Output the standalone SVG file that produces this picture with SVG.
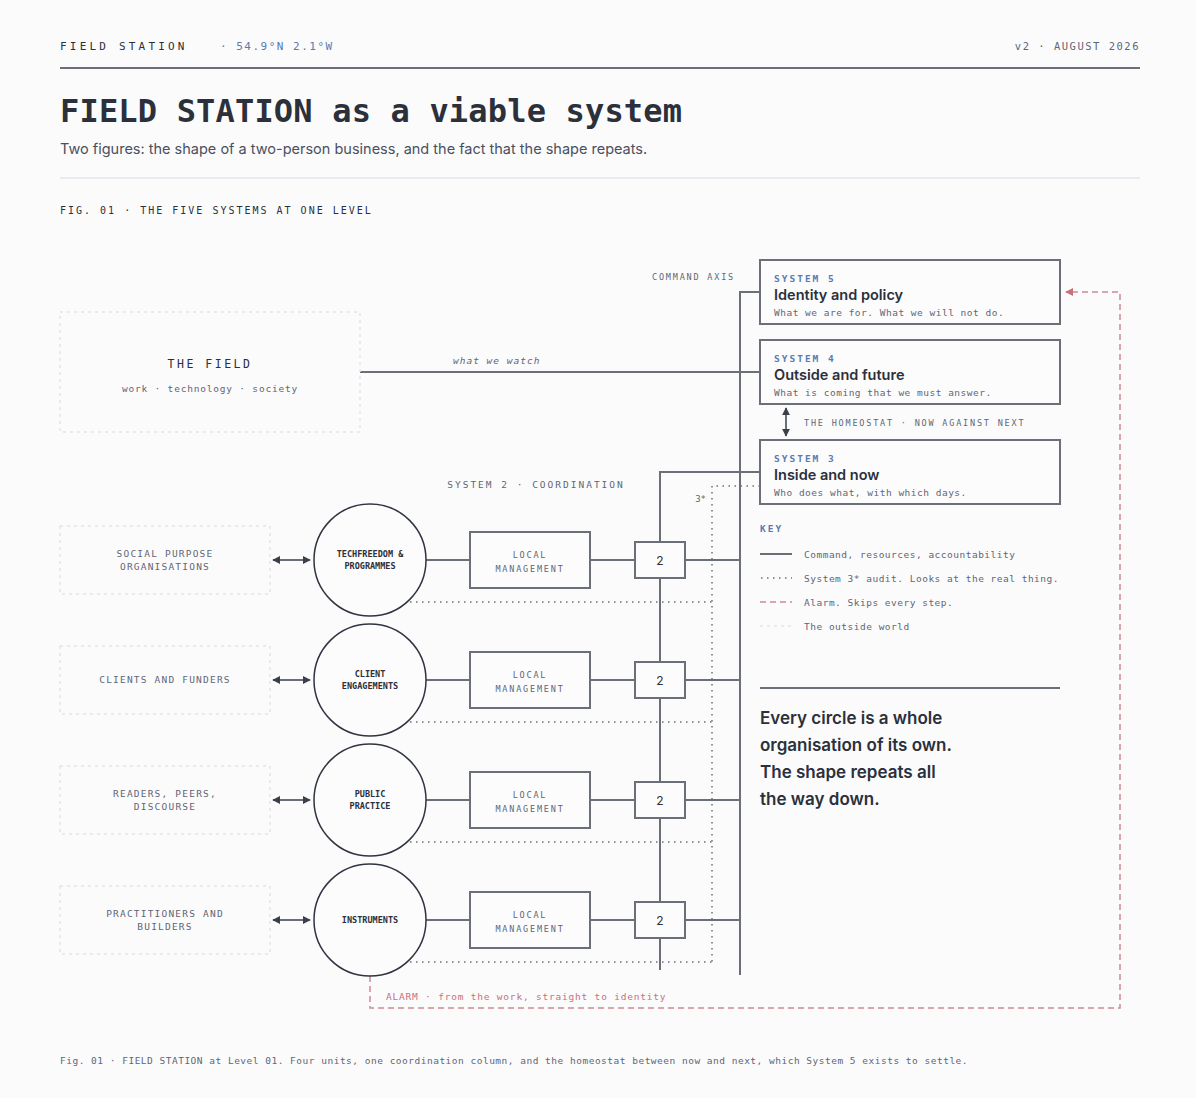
<svg xmlns="http://www.w3.org/2000/svg" width="1196" height="1098" viewBox="0 0 1196 1098">
<style>
.m{font-family:"DejaVu Sans Mono","Liberation Mono",monospace}
.s{font-family:Inter,"Noto Sans",sans-serif}
.ink{fill:#2b303b}.g{fill:#5f6675}.b{fill:#5a7ab0}.r{fill:#c9707a}
.ln{stroke:#6b7078;stroke-width:2;fill:none}
.dl{stroke:#6b7078;stroke-width:1.5;stroke-dasharray:1.5 4.5;fill:none}
.al{stroke:#d08a92;stroke-width:1.5;stroke-dasharray:6 4;fill:none}
.ow{stroke:#e2e5ec;stroke-width:1.5;stroke-dasharray:3 4;fill:none}
.box{fill:#fcfcfd;stroke:#6b7078;stroke-width:2}
.circ{fill:#fcfcfd;stroke:#2f3440;stroke-width:1.5}
</style>
<defs>
<marker id="ah" viewBox="0 0 10 10" refX="9" refY="5" markerWidth="8" markerHeight="8" markerUnits="userSpaceOnUse" orient="auto-start-reverse"><path d="M0,0 L10,5 L0,10 z" fill="#3a3f4a"/></marker>
<marker id="ar" viewBox="0 0 10 10" refX="9" refY="5" markerWidth="8" markerHeight="8" markerUnits="userSpaceOnUse" orient="auto"><path d="M0,0 L10,5 L0,10 z" fill="#c9707a"/></marker>
</defs>
<rect width="1196" height="1098" fill="#fbfbfc"/>
<text class="m ink" x="60" y="50" font-size="11" letter-spacing="3.2">FIELD STATION</text>
<text class="m b" x="220" y="50" font-size="11" letter-spacing="1.5" fill="#7b94c0">· 54.9°N 2.1°W</text>
<text class="m g" x="1140" y="50" font-size="10.5" letter-spacing="1.5" text-anchor="end">v2 · AUGUST 2026</text>
<line x1="60" y1="68" x2="1140" y2="68" stroke="#6b7078" stroke-width="2"/>
<text class="m ink" x="60" y="122" font-size="32" font-weight="bold" textLength="622">FIELD STATION as a viable system</text>
<text class="s" x="60" y="154" font-size="14.5" fill="#4a5060">Two figures: the shape of a two-person business, and the fact that the shape repeats.</text>
<line x1="60" y1="178" x2="1140" y2="178" stroke="#e3e6ec" stroke-width="1.5"/>
<text class="m ink" x="60" y="214" font-size="10" letter-spacing="2">FIG. 01 · THE FIVE SYSTEMS AT ONE LEVEL</text>

<g id="connectors">
<line class="ln" x1="360" y1="372" x2="760" y2="372"/>
<polyline class="ln" points="760,292 740,292 740,975"/>
<polyline class="ln" points="760,472 660,472 660,970"/>
<line x1="786" y1="408" x2="786" y2="436" stroke="#3a3f4a" stroke-width="1.5" marker-start="url(#ah)" marker-end="url(#ah)"/>
<polyline class="dl" points="760,486 712,486 712,962"/>
<g id="unit-lines">
<line x1="273" y1="560" x2="310" y2="560" stroke="#3a3f4a" stroke-width="1.5" marker-start="url(#ah)" marker-end="url(#ah)"/>
<line x1="273" y1="680" x2="310" y2="680" stroke="#3a3f4a" stroke-width="1.5" marker-start="url(#ah)" marker-end="url(#ah)"/>
<line x1="273" y1="800" x2="310" y2="800" stroke="#3a3f4a" stroke-width="1.5" marker-start="url(#ah)" marker-end="url(#ah)"/>
<line x1="273" y1="920" x2="310" y2="920" stroke="#3a3f4a" stroke-width="1.5" marker-start="url(#ah)" marker-end="url(#ah)"/>
<path class="ln" d="M426,560H470M590,560H635M685,560H740M426,680H470M590,680H635M685,680H740M426,800H470M590,800H635M685,800H740M426,920H470M590,920H635M685,920H740"/>
<path class="dl" d="M410,602H712M410,722H712M410,842H712M410,962H712"/>
</g>
<polyline class="al" points="370,976 370,1008 1120,1008 1120,292 1066,292" marker-end="url(#ar)"/>
</g>

<text class="m g" x="453" y="364" font-size="9.5" font-style="italic" letter-spacing="1">what we watch</text>
<text class="m g" x="735" y="280" font-size="8.5" letter-spacing="1.8" text-anchor="end">COMMAND AXIS</text>
<text class="m g" x="804" y="426" font-size="8.5" letter-spacing="1.8">THE HOMEOSTAT · NOW AGAINST NEXT</text>
<text class="m g" x="536" y="488" font-size="9.5" letter-spacing="2" text-anchor="middle">SYSTEM 2 · COORDINATION</text>
<text class="m g" x="706" y="502" font-size="9" text-anchor="end">3*</text>
<text class="m r" x="386" y="1000" font-size="9.5" letter-spacing="0.8">ALARM · from the work, straight to identity</text>

<g id="field">
<rect class="ow" x="60" y="312" width="300" height="120"/>
<text class="m ink" x="210" y="368" font-size="11.5" letter-spacing="2.5" text-anchor="middle">THE FIELD</text>
<text class="m g" x="210" y="392" font-size="9.5" letter-spacing="0.8" text-anchor="middle">work · technology · society</text>
</g>

<g id="s5"><rect class="box" x="760" y="260" width="300" height="64"/>
<text class="m b" x="774" y="282" font-size="9.5" font-weight="bold" letter-spacing="2">SYSTEM 5</text>
<text class="s ink" x="774" y="300" font-size="14.5" font-weight="600">Identity and policy</text>
<text class="m g" x="774" y="316" font-size="9.5" letter-spacing="0.5">What we are for. What we will not do.</text></g>
<g id="s4"><rect class="box" x="760" y="340" width="300" height="64"/>
<text class="m b" x="774" y="362" font-size="9.5" font-weight="bold" letter-spacing="2">SYSTEM 4</text>
<text class="s ink" x="774" y="380" font-size="14.5" font-weight="600">Outside and future</text>
<text class="m g" x="774" y="396" font-size="9.5" letter-spacing="0.5">What is coming that we must answer.</text></g>
<g id="s3"><rect class="box" x="760" y="440" width="300" height="64"/>
<text class="m b" x="774" y="462" font-size="9.5" font-weight="bold" letter-spacing="2">SYSTEM 3</text>
<text class="s ink" x="774" y="480" font-size="14.5" font-weight="600">Inside and now</text>
<text class="m g" x="774" y="496" font-size="9.5" letter-spacing="0.5">Who does what, with which days.</text></g>

<g id="unit1">
<rect class="ow" x="60" y="526" width="210" height="68"/>
<text class="m g" x="165" y="557" font-size="9.5" letter-spacing="1.2" text-anchor="middle">SOCIAL PURPOSE</text>
<text class="m g" x="165" y="570" font-size="9.5" letter-spacing="1.2" text-anchor="middle">ORGANISATIONS</text>
<circle class="circ" cx="370" cy="560" r="56"/>
<text class="m ink" x="370" y="557" font-size="8.5" font-weight="bold" text-anchor="middle">TECHFREEDOM &amp;</text>
<text class="m ink" x="370" y="569" font-size="8.5" font-weight="bold" text-anchor="middle">PROGRAMMES</text>
<rect class="box" x="470" y="532" width="120" height="56"/>
<text class="m g" x="530" y="558" font-size="8.5" letter-spacing="1.8" text-anchor="middle">LOCAL</text>
<text class="m g" x="530" y="572" font-size="8.5" letter-spacing="1.8" text-anchor="middle">MANAGEMENT</text>
<rect class="box" x="635" y="542" width="50" height="36"/>
<text class="s ink" x="660" y="565" font-size="12" text-anchor="middle">2</text>
</g>
<g id="unit2">
<rect class="ow" x="60" y="646" width="210" height="68"/>
<text class="m g" x="165" y="683" font-size="9.5" letter-spacing="1.2" text-anchor="middle">CLIENTS AND FUNDERS</text>
<circle class="circ" cx="370" cy="680" r="56"/>
<text class="m ink" x="370" y="677" font-size="8.5" font-weight="bold" text-anchor="middle">CLIENT</text>
<text class="m ink" x="370" y="689" font-size="8.5" font-weight="bold" text-anchor="middle">ENGAGEMENTS</text>
<rect class="box" x="470" y="652" width="120" height="56"/>
<text class="m g" x="530" y="678" font-size="8.5" letter-spacing="1.8" text-anchor="middle">LOCAL</text>
<text class="m g" x="530" y="692" font-size="8.5" letter-spacing="1.8" text-anchor="middle">MANAGEMENT</text>
<rect class="box" x="635" y="662" width="50" height="36"/>
<text class="s ink" x="660" y="685" font-size="12" text-anchor="middle">2</text>
</g>
<g id="unit3">
<rect class="ow" x="60" y="766" width="210" height="68"/>
<text class="m g" x="165" y="797" font-size="9.5" letter-spacing="1.2" text-anchor="middle">READERS, PEERS,</text>
<text class="m g" x="165" y="810" font-size="9.5" letter-spacing="1.2" text-anchor="middle">DISCOURSE</text>
<circle class="circ" cx="370" cy="800" r="56"/>
<text class="m ink" x="370" y="797" font-size="8.5" font-weight="bold" text-anchor="middle">PUBLIC</text>
<text class="m ink" x="370" y="809" font-size="8.5" font-weight="bold" text-anchor="middle">PRACTICE</text>
<rect class="box" x="470" y="772" width="120" height="56"/>
<text class="m g" x="530" y="798" font-size="8.5" letter-spacing="1.8" text-anchor="middle">LOCAL</text>
<text class="m g" x="530" y="812" font-size="8.5" letter-spacing="1.8" text-anchor="middle">MANAGEMENT</text>
<rect class="box" x="635" y="782" width="50" height="36"/>
<text class="s ink" x="660" y="805" font-size="12" text-anchor="middle">2</text>
</g>
<g id="unit4">
<rect class="ow" x="60" y="886" width="210" height="68"/>
<text class="m g" x="165" y="917" font-size="9.5" letter-spacing="1.2" text-anchor="middle">PRACTITIONERS AND</text>
<text class="m g" x="165" y="930" font-size="9.5" letter-spacing="1.2" text-anchor="middle">BUILDERS</text>
<circle class="circ" cx="370" cy="920" r="56"/>
<text class="m ink" x="370" y="923" font-size="8.5" font-weight="bold" text-anchor="middle">INSTRUMENTS</text>
<rect class="box" x="470" y="892" width="120" height="56"/>
<text class="m g" x="530" y="918" font-size="8.5" letter-spacing="1.8" text-anchor="middle">LOCAL</text>
<text class="m g" x="530" y="932" font-size="8.5" letter-spacing="1.8" text-anchor="middle">MANAGEMENT</text>
<rect class="box" x="635" y="902" width="50" height="36"/>
<text class="s ink" x="660" y="925" font-size="12" text-anchor="middle">2</text>
</g>

<g id="key">
<text class="m b" x="760" y="532" font-size="9.5" font-weight="bold" letter-spacing="2">KEY</text>
<line class="ln" x1="760" y1="554" x2="792" y2="554" stroke-width="1.5"/>
<line class="dl" x1="761" y1="578" x2="792" y2="578"/>
<line class="al" x1="760" y1="602" x2="792" y2="602"/>
<line class="ow" x1="760" y1="626" x2="792" y2="626"/>
<text class="m g" x="804" y="558" font-size="9.5" letter-spacing="0.5">Command, resources, accountability</text>
<text class="m g" x="804" y="582" font-size="9.5" letter-spacing="0.5">System 3* audit. Looks at the real thing.</text>
<text class="m g" x="804" y="606" font-size="9.5" letter-spacing="0.5">Alarm. Skips every step.</text>
<text class="m g" x="804" y="630" font-size="9.5" letter-spacing="0.5">The outside world</text>
</g>
<line x1="760" y1="688" x2="1060" y2="688" stroke="#6b7078" stroke-width="2"/>
<g id="note" class="s ink" font-size="17" font-weight="600">
<text x="760" y="724">Every circle is a whole</text>
<text x="760" y="751">organisation of its own.</text>
<text x="760" y="778">The shape repeats all</text>
<text x="760" y="805">the way down.</text>
</g>
<text class="m g" x="60" y="1064" font-size="9.5" letter-spacing="0.5">Fig. 01 · FIELD STATION at Level 01. Four units, one coordination column, and the homeostat between now and next, which System 5 exists to settle.</text>
</svg>
